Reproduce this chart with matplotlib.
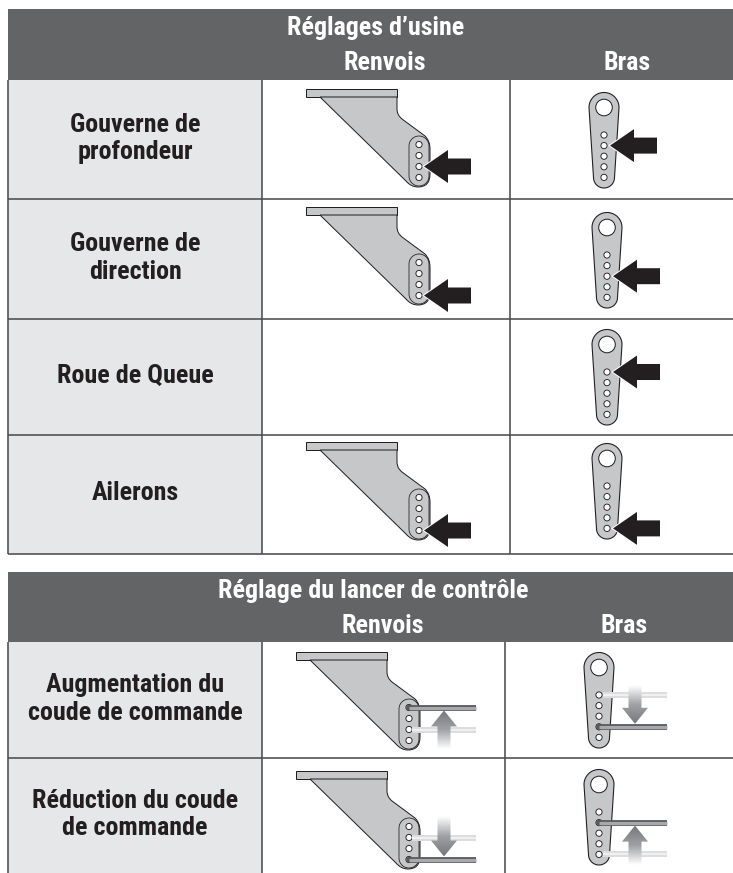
"""Linkage settings tables: control horns and servo arms, factory setup and throw."""
import matplotlib

matplotlib.use("Agg")
import matplotlib.pyplot as plt
import numpy as np
from matplotlib.colors import LinearSegmentedColormap
from matplotlib.patches import Circle, PathPatch, Polygon, Rectangle
from matplotlib.path import Path

plt.rcParams['font.family'] = ['Roboto Condensed', 'Liberation Sans', 'DejaVu Sans']
plt.rcParams['font.weight'] = 'bold'

# Table texts
title_1 = "Réglages d’usine"
title_2 = "Réglage du lancer de contrôle"
col_labels = ["Renvois", "Bras"]
row_labels_1 = ["Gouverne de\nprofondeur", "Gouverne de\ndirection", "Roue de Queue", "Ailerons"]
row_labels_2 = ["Augmentation du\ncoude de commande", "Réduction du coude\nde commande"]

# Hole indicated by the arrow, per row (None: no horn in this row)
horn_holes_1 = [2, 3, None, 3]
arm_holes_1 = [1, 2, 0, 4]
# Rod hole and ghost rod hole
horn_rods_2 = [(0, 2), (3, 1)]
arm_rods_2 = [(3, 0), (1, 4)]

HEAD = '#636466'
CELL = '#e6e7e8'
LINE = '#4d4d4f'
METAL = '#c6c7c9'
DARK = '#231f20'
PX = 0.72
FS = 18.7


def draw_table(ax, top, head_bot, rows, xs, bottom, title, title_x, col_x, labels):
    ax.add_patch(Rectangle((xs[0], top), 733 - xs[0], head_bot - top, fc=HEAD, ec='none', zorder=1))
    ax.text(title_x, top + 19, title, color='white', fontsize=FS, ha='center', va='center', zorder=5)
    for x, lab in zip(col_x, col_labels):
        ax.text(x, top + 54, lab, color='white', fontsize=FS, ha='center', va='center', zorder=5)
    prev = head_bot
    for y, lab in zip(rows + [bottom][:len(labels) - len(rows)], labels):
        ax.add_patch(Rectangle((xs[0], prev), xs[1] - xs[0], y - prev, fc=CELL, ec='none', zorder=1))
        ax.text(135, (prev + y) / 2 - 1, lab, color=DARK, fontsize=FS, ha='center', va='center',
                linespacing=1.2, zorder=5)
        prev = y
    for y in rows:
        ax.plot([xs[0], 733], [y, y], color=LINE, lw=1.6 * PX, zorder=2, solid_capstyle='butt')
    for x in xs:
        ax.plot([x, x], [head_bot, bottom], color=LINE, lw=1.6 * PX, zorder=2, solid_capstyle='butt')


def draw_horn(ax, x, y):
    # x, y: top left corner of the flat plate
    ax.add_patch(Rectangle((x, y), 91, 8, fc=METAL, ec=DARK, lw=1.0 * PX, zorder=3))
    verts = [(x + 14, y + 8), (x + 91, y + 8), (x + 91, y + 20), (x + 91, y + 26), (x + 96, y + 30),
             (x + 119, y + 47), (x + 124, y + 52), (x + 124, y + 60), (x + 124, y + 85),
             (x + 124, y + 98), (x + 112, y + 98), (x + 105, y + 98), (x + 100, y + 92), (x + 14, y + 8)]
    codes = [Path.MOVETO, Path.LINETO, Path.LINETO, Path.CURVE3, Path.CURVE3, Path.LINETO, Path.CURVE3,
             Path.CURVE3, Path.LINETO, Path.CURVE3, Path.CURVE3, Path.CURVE3, Path.CURVE3, Path.CLOSEPOLY]
    ax.add_patch(PathPatch(Path(verts, codes), fc=METAL, ec=DARK, lw=1.0 * PX, zorder=3))
    # inner slot
    t = np.linspace(0, np.pi, 30)
    sx = np.r_[x + 113 + 10 * np.cos(t), x + 113 + 10 * np.cos(t + np.pi)]
    sy = np.r_[y + 57 - 10 * np.sin(t), y + 87 - 10 * np.sin(t + np.pi)]
    ax.add_patch(Polygon(np.c_[sx, sy], closed=True, fc='none', ec=DARK, lw=0.8 * PX, zorder=3))
    hole_y = [y + 55.5 + 11 * i for i in range(4)]
    for hy in hole_y:
        ax.add_patch(Circle((x + 113, hy), 3.1, fc='white', ec=DARK, lw=0.9 * PX, zorder=4))
    return x + 113, hole_y


def draw_arm(ax, x, top, bot):
    c1 = top + 15.5
    c2 = bot - 10.5
    t1 = np.linspace(np.pi, 0, 40)
    t2 = np.linspace(0, -np.pi, 40)
    px = np.r_[x + 15 * np.cos(t1), x + 10.5 * np.cos(t2)]
    py = np.r_[c1 - 15 * np.sin(t1), c2 - 10.5 * np.sin(t2)]
    ax.add_patch(Polygon(np.c_[px, py], closed=True, fc=METAL, ec=DARK, lw=1.1 * PX, zorder=3))
    ax.add_patch(Circle((x, c1), 8.3, fc='white', ec=DARK, lw=1.0 * PX, zorder=4))
    hole_y = [top + 43 + 10.6 * i for i in range(5)]
    for hy in hole_y:
        ax.add_patch(Circle((x, hy), 3.1, fc='white', ec=DARK, lw=0.9 * PX, zorder=4))
    return hole_y


def black_arrow(ax, tip_x, y):
    pts = [(tip_x, y), (tip_x + 24, y - 16.5), (tip_x + 24, y - 8), (tip_x + 47, y - 8),
           (tip_x + 47, y + 8), (tip_x + 24, y + 8), (tip_x + 24, y + 16.5)]
    # white halo under the arrow so it stands off the metal part
    ax.add_patch(Polygon(pts, closed=True, fc='white', ec='white', lw=2 * PX, zorder=6))
    ax.add_patch(Polygon(pts, closed=True, fc=DARK, ec='none', zorder=7))


def draw_rod(ax, x0, x1, y):
    ax.plot([x0, x1], [y, y], color='#58595b', lw=5.8 * PX, zorder=6, solid_capstyle='butt')
    ax.add_patch(Circle((x0, y), 2.9, fc='#58595b', ec='none', zorder=6))
    ax.plot([x0, x1], [y, y], color='#a7a9ac', lw=3.2 * PX, zorder=7, solid_capstyle='butt')


def ghost_rod(ax, x0, x1, y):
    ax.plot([x0, x1], [y, y], color='#dcddde', lw=6 * PX, zorder=6, solid_capstyle='butt')
    ax.plot([x0, x1], [y, y], color='#f0f0f1', lw=2 * PX, zorder=7, solid_capstyle='butt')


def grad_arrow(ax, cx, tip_y, base_y, tail_y):
    # gradient from dark at the tip to white at the tail
    pts = [(cx, tip_y), (cx + 13, base_y), (cx + 6.5, base_y), (cx + 6.5, tail_y),
           (cx - 6.5, tail_y), (cx - 6.5, base_y), (cx - 13, base_y)]
    patch = Polygon(pts, closed=True, fc='none', ec='none', zorder=8)
    ax.add_patch(patch)
    grad = np.linspace(0, 1, 64).reshape(-1, 1)
    cmap = LinearSegmentedColormap.from_list('fade', ['#77787b', '#a0a1a4', '#ffffff'])
    im = ax.imshow(grad, cmap=cmap, extent=[cx - 14, cx + 14, tail_y, tip_y], origin='upper',
                   aspect='auto', zorder=8, vmin=0, vmax=1)
    im.set_clip_path(patch)


fig = plt.figure(figsize=(7.33, 8.73), dpi=100)
ax = fig.add_axes([0, 0, 1, 1])

# Table 1
rows_1 = [199, 319, 435, 554]
draw_table(ax, 9, 80, rows_1, [8, 262, 510], 554, title_1, 376, [385, 627], row_labels_1)
horn_tops = [89, 207, None, 442]
arm_x = [604, 607, 607, 607]
arm_tops = [92, 212, 329, 443]
for i in range(4):
    if horn_holes_1[i] is not None:
        hx, hy = draw_horn(ax, 306, horn_tops[i])
        black_arrow(ax, 424, hy[horn_holes_1[i]])
    ay = draw_arm(ax, arm_x[i], arm_tops[i], arm_tops[i] + 96)
    black_arrow(ax, arm_x[i] + 6, ay[arm_holes_1[i]])

# Table 2
rows_2 = [758]
draw_table(ax, 572, 642, rows_2, [8, 262, 505], 873, title_2, 373, [383, 624], row_labels_2)
horn_tops_2 = [652, 771]
arm_tops_2 = [652, 769]
for i in range(2):
    hx, hy = draw_horn(ax, 296, horn_tops_2[i])
    rod, ghost = horn_rods_2[i]
    ghost_rod(ax, hx + 3, 476, hy[ghost])
    draw_rod(ax, hx, 476, hy[rod])
    if rod < ghost:
        grad_arrow(ax, 444, hy[rod] + 3, hy[rod] + 19, hy[rod] + 42)
    else:
        grad_arrow(ax, 444, hy[rod] - 3, hy[rod] - 19, hy[rod] - 43)

    ay = draw_arm(ax, 599, arm_tops_2[i], arm_tops_2[i] + 96)
    rod, ghost = arm_rods_2[i]
    ghost_rod(ax, 603, 667, ay[ghost])
    draw_rod(ax, 599, 667, ay[rod])
    if rod > ghost:
        grad_arrow(ax, 635, ay[rod] - 3, ay[rod] - 19, ay[rod] - 42)
    else:
        grad_arrow(ax, 635, ay[rod] + 3, ay[rod] + 19, ay[rod] + 42)

ax.set_xlim(0, 733)
ax.set_ylim(873, 0)
ax.axis('off')

fig.savefig("out.png", dpi=100)
plt.close(fig)
